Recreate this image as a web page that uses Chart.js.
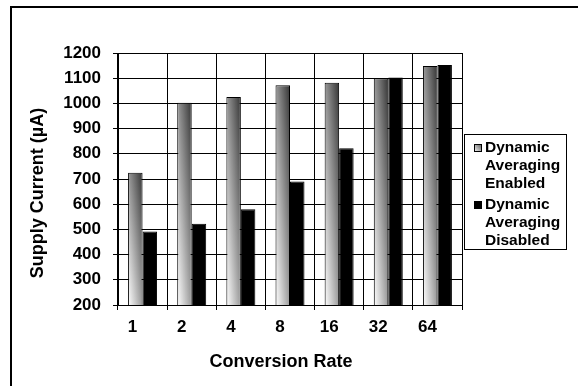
<!DOCTYPE html>
<html>
<head>
<meta charset="utf-8">
<script src="https://cdn.jsdelivr.net/npm/chart.js@4/dist/chart.umd.min.js"></script>
<style>
  html, body { margin: 0; padding: 0; background: #fff; }
  canvas { display: block; }
</style>
</head>
<body>
<canvas id="chart" width="578" height="386"></canvas>
<script>
// Supply current (µA) against conversion rate
const conversionRates = ['1', '2', '4', '8', '16', '32', '64'];
const enabledCurrent  = [725, 1003, 1025, 1072, 1082, 1100, 1148];
const disabledCurrent = [492, 522, 580, 690, 822, 1103, 1152];
const yRange = { min: 200, max: 1200, step: 100 };
const legendLines = [
  ['Dynamic', 'Averaging', 'Enabled'],
  ['Dynamic', 'Averaging', 'Disabled']
];

const FONT = '"Liberation Sans", Arial, Helvetica, sans-serif';
const CAT_PCT = 0.59;

// Diagonal shade: white at the lower-left corner, dark at the upper-right corner
function diagGradient(ctx, L, T, R, B, c0, c1) {
  const W = Math.max(R - L, 1), H = Math.max(B - T, 1);
  const t = 2 / (1 / (W * W) + 1 / (H * H));
  const g = ctx.createLinearGradient(L, B, L + t / W, B - t / H);
  g.addColorStop(0, c0);
  g.addColorStop(1, c1);
  return g;
}

function enabledFill(c) {
  const chart = c.chart;
  if (!chart.chartArea || c.type !== 'data') return '#999';
  const xs = chart.scales.x, ys = chart.scales.y;
  const catW = (xs.right - xs.left) / conversionRates.length;
  const groupW = catW * CAT_PCT;
  const center = xs.getPixelForValue(c.dataIndex);
  const L = center - groupW / 2, R = L + groupW / 2;
  const T = ys.getPixelForValue(c.raw), B = ys.getPixelForValue(ys.min);
  return diagGradient(chart.ctx, L, T, R, B, '#ffffff', '#353535');
}

const framePlugin = {
  id: 'frame',
  beforeDraw(chart) {
    const ctx = chart.ctx;
    ctx.save();
    ctx.strokeStyle = '#000';
    ctx.lineWidth = 2;
    ctx.beginPath();
    ctx.moveTo(11, chart.height);
    ctx.lineTo(11, 7);
    ctx.lineTo(chart.width, 7);
    ctx.stroke();
    ctx.restore();
  },
  afterDraw(chart) {
    const ctx = chart.ctx;
    ctx.save();
    ctx.font = 'bold 18px ' + FONT;
    ctx.fillStyle = '#000';
    ctx.textAlign = 'center';
    ctx.textBaseline = 'middle';
    // horizontal axis title
    ctx.fillText('Conversion Rate', 281, 362);
    // vertical axis title
    ctx.translate(38, 193);
    ctx.rotate(-Math.PI / 2);
    ctx.fillText('Supply Current (\u00b5A)', 0, 0);
    ctx.restore();

    // legend box
    ctx.save();
    const bx = 464.5, by = 134.5, bw = 102, bh = 115;
    ctx.fillStyle = '#fff';
    ctx.fillRect(bx, by, bw, bh);
    ctx.strokeStyle = '#000';
    ctx.lineWidth = 1;
    ctx.strokeRect(bx, by, bw, bh);
    ctx.font = 'bold 15.5px ' + FONT;
    ctx.textAlign = 'left';
    ctx.textBaseline = 'middle';
    const rows = [[148, 166, 184], [205, 223, 241]];
    legendLines.forEach((lines, i) => {
      const my = rows[i][0];
      const mx = 474;
      ctx.fillStyle = i === 0 ? diagGradient(ctx, mx, my - 4, mx + 8, my + 4, '#ffffff', '#555555') : '#000';
      ctx.fillRect(mx, my - 4, 8, 8);
      ctx.strokeStyle = '#000';
      ctx.strokeRect(mx + 0.5, my - 3.5, 7, 7);
      ctx.fillStyle = '#000';
      lines.forEach((txt, j) => ctx.fillText(txt, 485, rows[i][j]));
    });
    ctx.restore();
  }
};

new Chart(document.getElementById('chart'), {
  type: 'bar',
  data: {
    labels: conversionRates,
    datasets: [
      {
        label: legendLines[0].join(' '),
        data: enabledCurrent,
        backgroundColor: enabledFill,
        borderColor: '#000',
        borderWidth: 1,
        barPercentage: 1,
        categoryPercentage: CAT_PCT
      },
      {
        label: legendLines[1].join(' '),
        data: disabledCurrent,
        backgroundColor: '#000',
        borderColor: '#000',
        borderWidth: 1,
        barPercentage: 1,
        categoryPercentage: CAT_PCT
      }
    ]
  },
  options: {
    responsive: false,
    animation: false,
    events: [],
    layout: { padding: { top: 53, right: 116, bottom: 0, left: 14 } },
    plugins: {
      legend: { display: false },
      tooltip: { enabled: false },
      title: { display: false }
    },
    scales: {
      x: {
        grid: { color: '#000', lineWidth: 1, offset: true, drawTicks: true, tickLength: 5 },
        border: { color: '#000', width: 1 },
        ticks: {
          color: '#000',
          font: { family: FONT, size: 17, weight: 'bold' },
          padding: 7,
          labelOffset: -10,
          maxRotation: 0
        },
        afterFit(scale) { scale.height = 81; }
      },
      y: {
        min: yRange.min,
        max: yRange.max,
        grid: { color: '#000', lineWidth: 1, drawTicks: true, tickLength: 5 },
        border: { color: '#000', width: 1 },
        ticks: {
          stepSize: yRange.step,
          color: '#000',
          font: { family: FONT, size: 17, weight: 'bold' },
          padding: 12,
          callback: (v) => String(v)
        },
        afterFit(scale) { scale.width = 104; }
      }
    }
  },
  plugins: [framePlugin]
});
</script>
</body>
</html>
